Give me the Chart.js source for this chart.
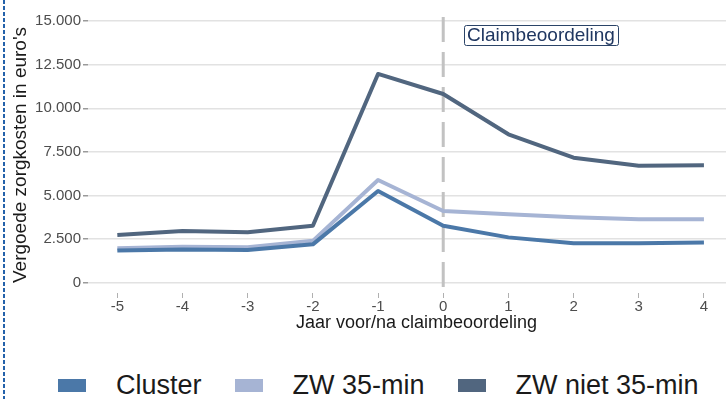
<!DOCTYPE html>
<html>
<head>
<meta charset="utf-8">
<script src="https://cdn.jsdelivr.net/npm/chart.js@4"></script>
<style>
    body { margin: 0; background: #fff; font-family: "Liberation Sans", Arial, sans-serif; }
    #wrap { position: relative; width: 726px; height: 399px; overflow: hidden; }
    #chartBox { position: absolute; left: 0; top: 0; }
    #edge {
        position: absolute; left: 3px; top: 0; width: 2px; height: 399px;
        background: repeating-linear-gradient(to bottom, #2462ab 0, #2462ab 4px, #fff 4px, #fff 6px);
    }
    #legend { position: absolute; left: 58px; top: 370px; display: flex; align-items: center; height: 30px; width: 700px; white-space: nowrap; }
    .item { display: flex; align-items: center; flex-shrink: 0; margin-right: 33px; font-size: 27px; color: #1a1a1a; }
    .swatch { width: 28px; height: 13px; margin-right: 30px; }
</style>
</head>
<body>
<div id="wrap">
    <div id="chartBox"><canvas id="zorgkosten" width="745" height="334"></canvas></div>
    <div id="edge"></div>
    <div id="legend"></div>
</div>
<script>
const years = [-5, -4, -3, -2, -1, 0, 1, 2, 3, 4];
const cluster = [1840, 1910, 1880, 2200, 5260, 3270, 2600, 2260, 2260, 2310];
const zw35min = [1970, 2060, 2030, 2400, 5890, 4110, 3920, 3750, 3640, 3640];
const zwNiet35min = [2740, 2970, 2890, 3270, 11970, 10820, 8510, 7170, 6710, 6730];
const seriesNames = ['Cluster', 'ZW 35-min', 'ZW niet 35-min'];
const seriesColors = ['#4b78a8', '#a6b4d4', '#51667f'];
const yTicks = [0, 2500, 5000, 7500, 10000, 12500, 15000];
const yTickLabels = ['0', '2.500', '5.000', '7.500', '10.000', '12.500', '15.000'];
const claimYear = 0;
const labelText = 'Claimbeoordeling';
const labelYear = 1.5;
const labelValue = 14200;

const FONT = '"Liberation Sans", Arial, sans-serif';

// vertical dashed line at the claim year plus the boxed label
const claimMarker = {
    id: 'claimMarker',
    beforeDatasetsDraw(chart) {
        const { ctx, chartArea, scales } = chart;
        const x = scales.x.getPixelForValue(claimYear);
        ctx.save();
        ctx.strokeStyle = '#c2c2c2';
        ctx.lineWidth = 3;
        ctx.setLineDash([25, 10]);
        ctx.beginPath();
        ctx.moveTo(x, chartArea.top);
        ctx.lineTo(x, chartArea.bottom);
        ctx.stroke();
        ctx.restore();
    },
    afterDatasetsDraw(chart) {
        const { ctx, scales } = chart;
        const cx = scales.x.getPixelForValue(labelYear);
        const cy = scales.y.getPixelForValue(labelValue);
        ctx.save();
        ctx.font = '19px ' + FONT;
        const w = ctx.measureText(labelText).width + 6;
        const h = 20;
        ctx.fillStyle = '#fff';
        ctx.strokeStyle = '#2b4468';
        ctx.lineWidth = 1;
        ctx.beginPath();
        ctx.roundRect(Math.round(cx - w / 2) + 0.5, Math.round(cy - h / 2) + 0.5, Math.round(w), h, 2);
        ctx.fill();
        ctx.stroke();
        ctx.fillStyle = '#1f3660';
        ctx.textAlign = 'center';
        ctx.textBaseline = 'middle';
        ctx.fillText(labelText, cx, cy + 1);
        ctx.restore();
    }
};

const allSeries = [cluster, zw35min, zwNiet35min];

new Chart(document.getElementById('zorgkosten'), {
    type: 'line',
    data: {
        datasets: allSeries.map((values, i) => ({
            label: seriesNames[i],
            data: years.map((y, j) => ({ x: y, y: values[j] })),
            borderColor: seriesColors[i],
            backgroundColor: seriesColors[i],
            borderWidth: 4,
            borderJoinStyle: 'round',
            pointRadius: 0,
            tension: 0,
            fill: false
        }))
    },
    options: {
        responsive: false,
        animation: false,
        layout: { padding: { left: 9, top: 17, right: 0, bottom: 0 } },
        plugins: { legend: { display: false }, tooltip: { enabled: false } },
        scales: {
            x: {
                type: 'linear',
                min: -5.45,
                max: 4.63,
                afterBuildTicks: scale => { scale.ticks = years.map(v => ({ value: v })); },
                afterFit: scale => { scale.height = 41; },
                grid: { drawOnChartArea: false, drawTicks: true, tickLength: 5, tickColor: '#b0b0b0' },
                border: { display: false },
                ticks: { font: { family: FONT, size: 15 }, color: '#4d4d4d', padding: 0, maxRotation: 0 },
                title: {
                    display: true,
                    text: 'Jaar voor/na claimbeoordeling',
                    font: { family: FONT, size: 18 },
                    color: '#1a1a1a',
                    padding: 0
                }
            },
            y: {
                min: -590,
                max: 15236,
                afterBuildTicks: scale => { scale.ticks = yTicks.map(v => ({ value: v })); },
                afterFit: scale => { scale.width = 79; },
                grid: { color: '#e2e2e2', lineWidth: 1.5, tickLength: 5, tickColor: '#9a9a9a' },
                border: { display: false },
                ticks: {
                    font: { family: FONT, size: 15 },
                    color: '#4d4d4d',
                    padding: 2,
                    callback: value => yTickLabels[yTicks.indexOf(value)]
                },
                title: {
                    display: true,
                    text: "Vergoede zorgkosten in euro's",
                    font: { family: FONT, size: 19 },
                    color: '#1a1a1a',
                    padding: 0
                }
            }
        }
    },
    plugins: [claimMarker]
});

// legend row below the chart
const legend = document.getElementById('legend');
seriesNames.forEach((name, i) => {
    const item = document.createElement('div');
    item.className = 'item';
    item.innerHTML = `<span class="swatch" style="background:${seriesColors[i]}"></span><span>${name}</span>`;
    legend.appendChild(item);
});
</script>
</body>
</html>
